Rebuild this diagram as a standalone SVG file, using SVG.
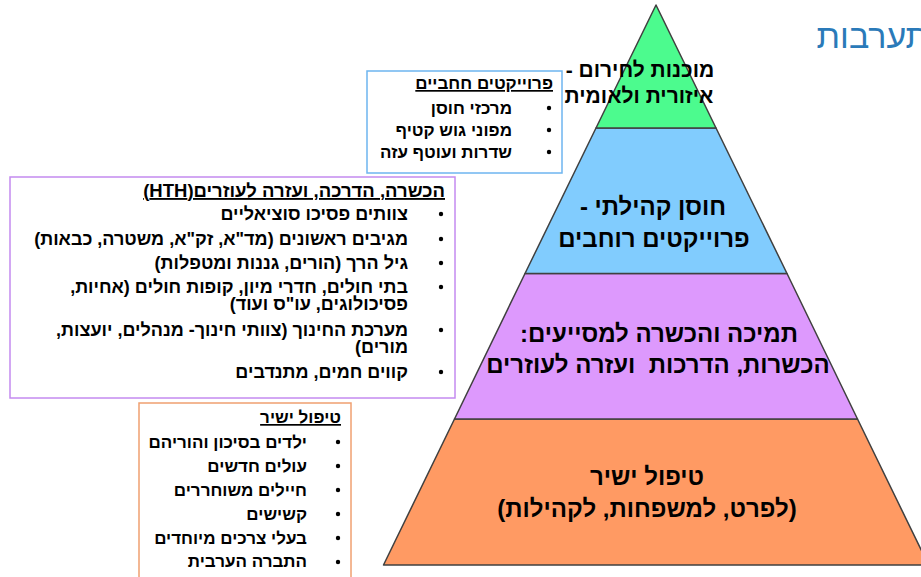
<svg xmlns="http://www.w3.org/2000/svg" width="921" height="577" viewBox="0 0 921 577">
<style>
.rtl{direction:rtl;unicode-bidi:embed;text-anchor:start;}
.box{font-family:"Liberation Sans","DejaVu Sans",sans-serif;font-size:18px;font-weight:bold;fill:#000;}
.sm{font-size:17px;}
.hd{text-decoration:underline;}
.pt{font-family:"Liberation Sans","DejaVu Sans",sans-serif;font-weight:bold;fill:#000;text-anchor:middle;direction:rtl;unicode-bidi:embed;}
.layer{stroke:#404040;stroke-width:1.5;stroke-linejoin:round;}
</style>
<rect x="0" y="0" width="921" height="577" fill="#ffffff"/>
<g id="title">
<text x="929" y="48" font-family="'Liberation Sans','DejaVu Sans',sans-serif" font-size="34" fill="#2a7ab9" class="rtl">תערבות</text>
</g>
<g id="box-wide-projects">
<rect x="367" y="71" width="195" height="102" fill="#ffffff" stroke="#6eb5f0" stroke-width="1.5"/>
<text class="box sm rtl hd" x="553" y="89">פרוייקטים חחביים</text>
<g fill="#000"><circle cx="549" cy="108" r="2.2"/><circle cx="549" cy="130" r="2.2"/><circle cx="549" cy="152" r="2.2"/></g>
<text class="box sm rtl" x="512" y="114">מרכזי חוסן</text>
<text class="box sm rtl" x="512" y="136">מפוני גוש קטיף</text>
<text class="box sm rtl" x="512" y="158">שדרות ועוטף עזה</text>
</g>
<g id="box-hth">
<rect x="10" y="177" width="445" height="221" fill="#ffffff" stroke="#c48bf0" stroke-width="1.5"/>
<text class="box rtl hd" x="445" y="197" style="font-size:18.5px">הכשרה, הדרכה, ועזרה לעוזרים(HTH)</text>
<g fill="#000"><circle cx="441" cy="214" r="2.2"/><circle cx="441" cy="239" r="2.2"/><circle cx="441" cy="263" r="2.2"/><circle cx="441" cy="287" r="2.2"/><circle cx="441" cy="330" r="2.2"/><circle cx="441" cy="372" r="2.2"/></g>
<text class="box rtl" x="408" y="220">צוותים פסיכו סוציאליים</text>
<text class="box rtl" x="408" y="245">מגיבים ראשונים (מד"א, זק"א, משטרה, כבאות)</text>
<text class="box rtl" x="408" y="269">גיל הרך (הורים, גננות ומטפלות)</text>
<text class="box rtl" x="408" y="293">בתי חולים, חדרי מיון, קופות חולים (אחיות,</text>
<text class="box rtl" x="408" y="310">פסיכולוגים, עו"ס ועוד)</text>
<text class="box rtl" x="408" y="336">מערכת החינוך (צוותי חינוך- מנהלים, יועצות,</text>
<text class="box rtl" x="408" y="353">מורים)</text>
<text class="box rtl" x="408" y="378">קווים חמים, מתנדבים</text>
</g>
<g id="box-direct">
<rect x="139" y="403" width="212" height="190" fill="#ffffff" stroke="#f0a070" stroke-width="1.5"/>
<text class="box sm rtl hd" x="341" y="423">טיפול ישיר</text>
<g fill="#000"><circle cx="338" cy="442" r="2.2"/><circle cx="338" cy="466" r="2.2"/><circle cx="338" cy="490" r="2.2"/><circle cx="338" cy="514" r="2.2"/><circle cx="338" cy="538" r="2.2"/><circle cx="338" cy="562" r="2.2"/></g>
<text class="box sm rtl" x="307" y="448">ילדים בסיכון והוריהם</text>
<text class="box sm rtl" x="307" y="472">עולים חדשים</text>
<text class="box sm rtl" x="307" y="496">חיילים משוחררים</text>
<text class="box sm rtl" x="307" y="520">קשישים</text>
<text class="box sm rtl" x="307" y="544">בעלי צרכים מיוחדים</text>
<text class="box sm rtl" x="307" y="567">התברה הערבית</text>
</g>
<g id="connectors"></g>
<g id="layer-direct">
<polygon class="layer" fill="#ff9a63" points="454.5,419 857.5,419 928.5,565 383.5,565"/>
<text class="pt" x="647" y="485" font-size="24">טיפול ישיר</text>
<text class="pt" x="647" y="517" font-size="24">(לפרט, למשפחות, לקהילות)</text>
</g>
<g id="layer-support">
<polygon class="layer" fill="#dd99fd" points="525,273.5 787,273.5 857.5,419 454.5,419"/>
<text class="pt" x="659" y="342" font-size="24">תמיכה והכשרה למסייעים:</text>
<text class="pt" x="658" y="373" font-size="24" xml:space="preserve">הכשרות, הדרכות  ועזרה לעוזרים</text>
</g>
<g id="layer-resilience">
<polygon class="layer" fill="#81ccfe" points="596,128 716,128 787,273.5 525,273.5"/>
<text class="pt" x="653" y="215" font-size="24">חוסן קהילתי -</text>
<text class="pt" x="654" y="247" font-size="24">פרוייקטים רוחבים</text>
</g>
<g id="layer-emergency">
<polygon class="layer" fill="#4cfb8e" points="656,5 716,128 596,128"/>
<text class="pt" x="640" y="77" font-size="21">מוכנות לחירום -</text>
<text class="pt" x="639" y="103" font-size="21">איזורית ולאומית</text>
</g>
</svg>
